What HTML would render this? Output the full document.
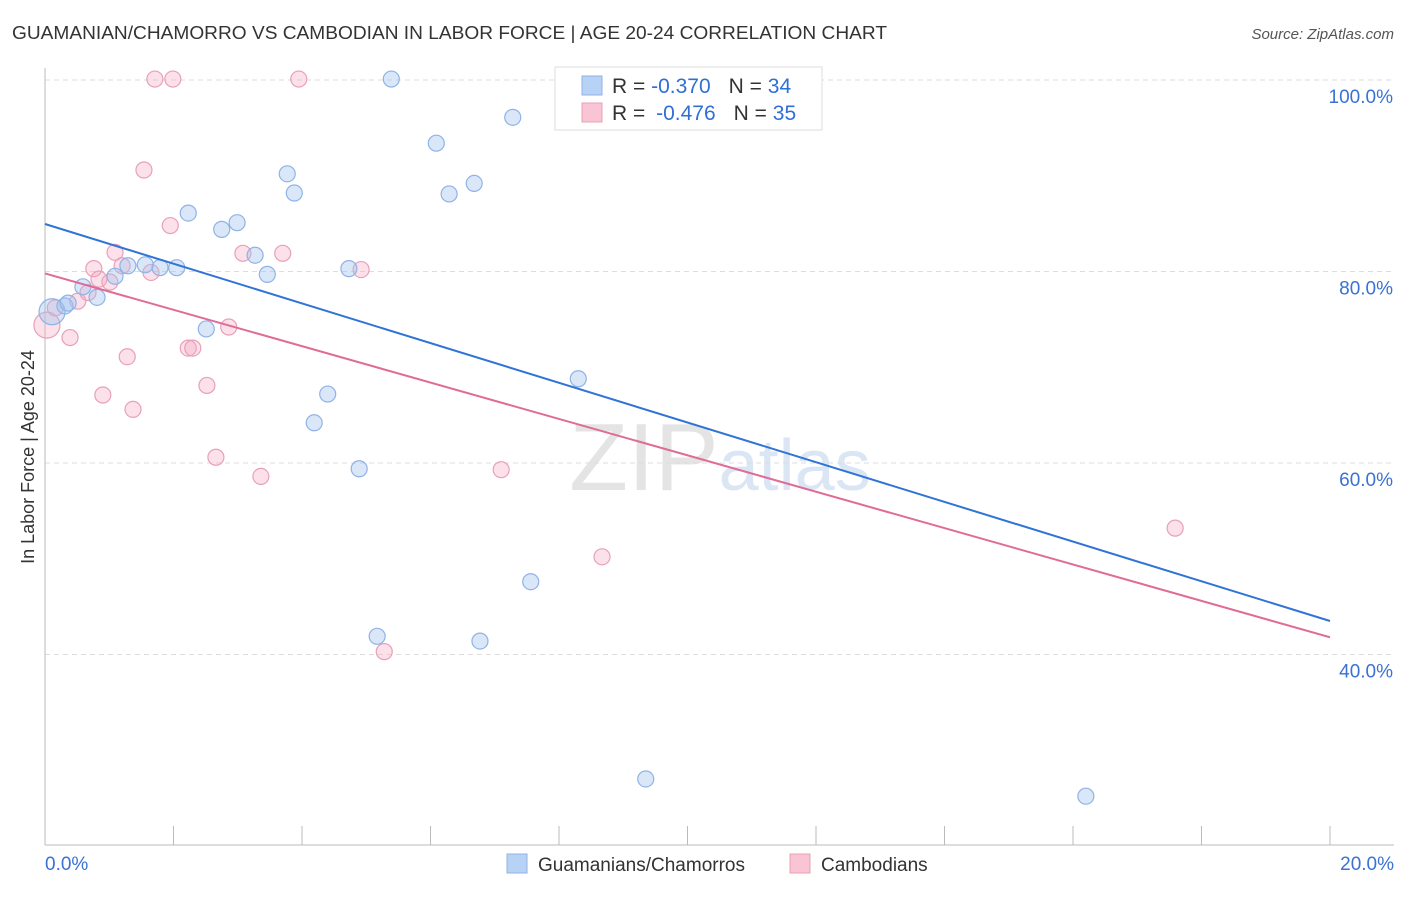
<!DOCTYPE html>
<html><head><meta charset="utf-8"><style>
body{margin:0;background:#fff;font-family:"Liberation Sans",sans-serif}
svg text{font-family:"Liberation Sans",sans-serif}
</style></head><body>
<svg id="c" width="1406" height="892" xmlns="http://www.w3.org/2000/svg">
<text x="12" y="39" font-size="18" fill="#333" textLength="875" lengthAdjust="spacingAndGlyphs">GUAMANIAN/CHAMORRO VS CAMBODIAN IN LABOR FORCE | AGE 20-24 CORRELATION CHART</text>
<text x="1394" y="39" font-size="15" fill="#555" text-anchor="end" font-style="italic">Source: ZipAtlas.com</text>
<text transform="translate(34,457) rotate(-90)" font-size="18" fill="#333" text-anchor="middle">In Labor Force | Age 20-24</text>
<text x="720" y="490" font-size="96" fill="#e4e4e4" text-anchor="middle" font-family="Liberation Serif">ZIP<tspan fill="#dbe6f5" font-family="Liberation Sans" font-size="72">atlas</tspan></text>
<g id="grid"></g><g id="marks"></g>
<g>
<rect x="555" y="67" width="267" height="63" fill="#fff" stroke="#ddd"/>
<rect x="582" y="76" width="20" height="19" fill="#b8d2f5" stroke="#8fb3e6"/>
<rect x="582" y="103" width="20" height="19" fill="#f9c4d4" stroke="#eaa0b8"/>
<text x="612" y="93" font-size="21" fill="#333">R = <tspan fill="#2f6fd6">-0.370</tspan><tspan dx="18">N = </tspan><tspan fill="#2f6fd6">34</tspan></text>
<text x="612" y="120" font-size="21" fill="#333">R = <tspan fill="#2f6fd6" dx="5">-0.476</tspan><tspan dx="18">N = </tspan><tspan fill="#2f6fd6">35</tspan></text>
</g>
<g>
<rect x="507" y="854" width="20" height="19" fill="#b8d2f5" stroke="#8fb3e6"/>
<text x="538" y="871" font-size="19" fill="#333">Guamanians/Chamorros</text>
<rect x="790" y="854" width="20" height="19" fill="#f9c4d4" stroke="#eaa0b8"/>
<text x="821" y="871" font-size="19" fill="#333">Cambodians</text>
</g>
</svg>
<script>
const yTicks=[100,80,60,40];
const yTickLabels=["100.0%","80.0%","60.0%","40.0%"];
const blueX=[0.11,0.31,0.36,0.59,0.81,1.09,1.29,1.56,1.79,2.05,2.23,2.51,2.75,2.99,3.27,3.46,3.77,3.88,4.19,4.40,4.73,4.89,5.17,5.39,6.09,6.29,6.68,6.77,7.28,7.56,8.30,9.31,9.35,16.20,9.73];
const blueY=[75.8,76.4,76.7,78.4,77.3,79.5,80.6,80.7,80.4,80.4,86.1,74.0,84.4,85.1,81.7,79.7,90.2,88.2,64.2,67.2,80.3,59.4,41.9,100.1,93.4,88.1,89.2,41.4,96.1,47.6,68.8,100.1,27.0,25.2,100.1];
const pinkX=[0.03,0.16,0.39,0.51,0.67,0.76,0.84,0.90,1.01,1.09,1.20,1.28,1.37,1.54,1.65,1.71,1.95,1.99,2.23,2.30,2.52,2.66,2.86,3.08,3.36,3.70,3.95,4.92,5.28,7.10,8.67,17.59];
const pinkY=[74.4,76.2,73.1,76.9,77.8,80.3,79.2,67.1,78.9,82.0,80.6,71.1,65.6,90.6,79.9,100.1,84.8,100.1,72.0,72.0,68.1,60.6,74.2,81.9,58.6,81.9,100.1,80.2,40.3,59.3,50.2,53.2];
const blueTrend=[84.96,43.5];
const pinkTrend=[79.8,41.8];
const X=v=>45+v/20*1285, Y=v=>80+(100-v)/20*191.5;
const NS="http://www.w3.org/2000/svg";
function mk(t,a,p){const e=document.createElementNS(NS,t);for(const k in a)e.setAttribute(k,a[k]);p.appendChild(e);return e;}
const g=document.getElementById('grid'),m=document.getElementById('marks');
yTicks.forEach((t,i)=>{
 const l=mk('line',{x1:45,x2:1394,y1:Y(t),y2:Y(t),stroke:'#ddd','stroke-dasharray':'5,4'},g);
 
 
 const tx=mk('text',{x:1393,y:Y(t)+23,'font-size':19,fill:'#3a72d4','text-anchor':'end'},g);tx.textContent=yTickLabels[i];
 
 
});
const ax=mk('line',{x1:45,x2:1394,y1:845,y2:845,stroke:'#bbb'},g);


const ay=mk('line',{x1:45,x2:45,y1:68,y2:845,stroke:'#bbb'},g);


for(let i=0;i<=10;i++){const t=mk('line',{x1:X(i*2),x2:X(i*2),y1:826,y2:845,stroke:'#bbb'},g);
 
 }
[["0.0%",45,"start"],["20.0%",1394,"end"]].forEach(d=>{const t=mk('text',{x:d[1],y:870,'font-size':19,fill:'#3a72d4','text-anchor':d[2]},g);t.textContent=d[0];
 
 });
function pts(xs,ys,fill,st,name){xs.forEach((x,i)=>{const c=mk('circle',{cx:X(x),cy:Y(ys[i]),r:i==0?13:8,fill:fill,stroke:st,'stroke-width':1.2},m);
 
 });}
pts(pinkX,pinkY,'rgba(245,170,195,0.35)','#e8a0b8','cambodian-point');
pts(blueX,blueY,'rgba(160,195,240,0.4)','#8fb3e6','guamanian-point');
const bl=mk('line',{x1:X(0),y1:Y(blueTrend[0]),x2:X(20),y2:Y(blueTrend[1]),stroke:'#2f74d6','stroke-width':2},m);


const pl=mk('line',{x1:X(0),y1:Y(pinkTrend[0]),x2:X(20),y2:Y(pinkTrend[1]),stroke:'#e06b97','stroke-width':2},m);


</script>
</body></html>
